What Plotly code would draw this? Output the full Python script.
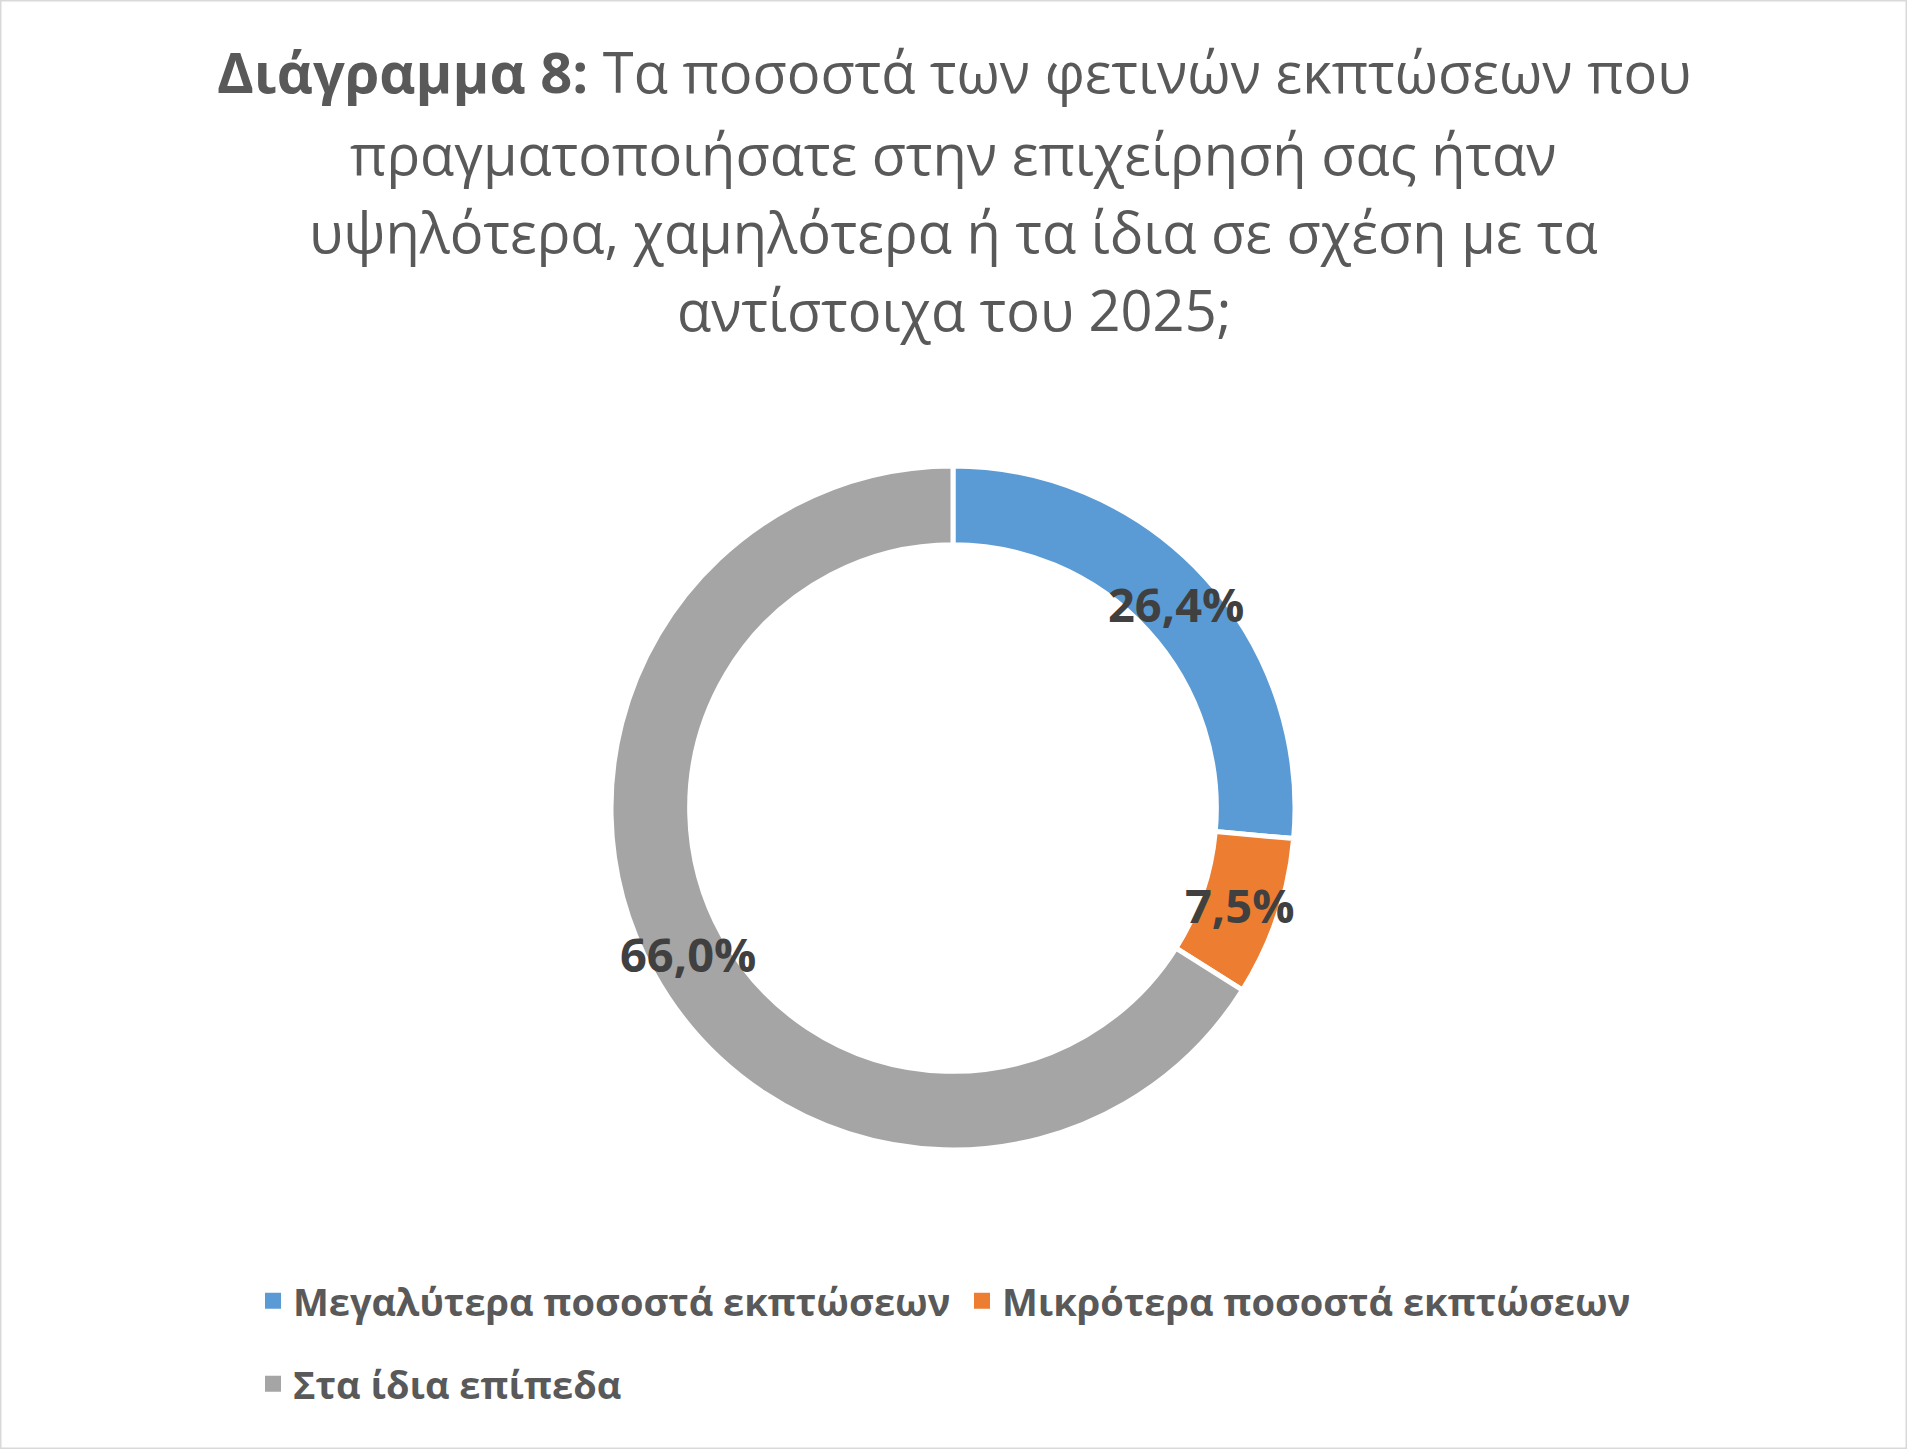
import math
import plotly.graph_objects as go

# data
labels = ['Μεγαλύτερα ποσοστά εκπτώσεων',
          'Μικρότερα ποσοστά εκπτώσεων',
          'Στα ίδια επίπεδα']
values = [26.4, 7.5, 66.0]
colors = ['#5B9BD5', '#ED7D31', '#A5A5A5']

title_lines = ['<b>Διάγραμμα 8:</b> Τα ποσοστά των φετινών εκπτώσεων που',
               'πραγματοποιήσατε στην επιχείρησή σας ήταν',
               'υψηλότερα, χαμηλότερα ή τα ίδια σε σχέση με τα',
               'αντίστοιχα του 2025;']

W, H = 1907, 1449
FONT = 'Open Sans'

# donut geometry (pixels, y measured from the bottom)
CX, CY, R_OUT, HOLE = 953, 641, 342, 0.77
R_LABEL = R_OUT * (1 + HOLE) / 2
TITLE_Y = [71, 153, 231, 309]   # px from top, centre of each title line

fig = go.Figure()

fig.add_trace(go.Pie(labels=labels,
                     values=values,
                     hole=HOLE,
                     sort=False,
                     direction='clockwise',
                     rotation=0,
                     marker={'colors': colors,
                             'line': {'color': 'white', 'width': 5}},
                     textinfo='none',
                     showlegend=False,
                     hovertemplate='%{label}: %{value:.1f}%<extra></extra>',
                     domain={'x': [(CX - R_OUT) / W, (CX + R_OUT) / W],
                             'y': [(CY - R_OUT) / H, (CY + R_OUT) / H]}))

# legend entries: first two on one row, third on its own row
for i, (name, col) in enumerate(zip(labels, colors)):
    fig.add_trace(go.Scatter(x=[None], y=[None],
                             mode='markers',
                             name=name,
                             marker={'symbol': 'square', 'size': 16, 'color': col},
                             legend='legend' if i < 2 else 'legend2',
                             hoverinfo='skip'))

# value labels sit in the middle of the ring, at each slice's mid angle
total = sum(values)
cum = 0
for v in values:
    mid = (cum + v / 2) / total * 2 * math.pi
    cum += v
    fig.add_annotation(x=(CX + R_LABEL * math.sin(mid)) / W,
                       y=(CY + R_LABEL * math.cos(mid)) / H,
                       xref='paper', yref='paper',
                       text=f'{v:.1f}%'.replace('.', ','),
                       showarrow=False,
                       font={'family': FONT, 'size': 47,
                             'color': '#404040', 'weight': 'bold'})

for line, ty in zip(title_lines, TITLE_Y):
    fig.add_annotation(x=0.5, y=1 - ty / H,
                       xref='paper', yref='paper',
                       xanchor='center', yanchor='middle',
                       text=line,
                       showarrow=False,
                       font={'family': FONT, 'size': 56, 'color': '#595959'})

legend_style = {'orientation': 'h',
                'x': 253 / W,
                'xanchor': 'left',
                'yanchor': 'middle',
                'entrywidth': 664,
                'bgcolor': 'rgba(0,0,0,0)',
                'font': {'family': FONT, 'size': 38,
                         'color': '#595959', 'weight': 'bold'}}

fig.update_layout(width=W,
                  height=H,
                  paper_bgcolor='white',
                  plot_bgcolor='white',
                  margin={'l': 0, 'r': 0, 't': 0, 'b': 0},
                  xaxis={'visible': False},
                  yaxis={'visible': False},
                  legend={**legend_style, 'y': 1 - 1301 / H},
                  legend2={**legend_style, 'y': 1 - 1384 / H},
                  shapes=[{'type': 'rect', 'xref': 'paper', 'yref': 'paper',
                           'x0': 0, 'x1': 1, 'y0': 0, 'y1': 1,
                           'line': {'color': '#D9D9D9', 'width': 3}}])

fig.write_html('out.html',
               config={'displayModeBar': False},
               post_script="document.body.style.margin='0';")
